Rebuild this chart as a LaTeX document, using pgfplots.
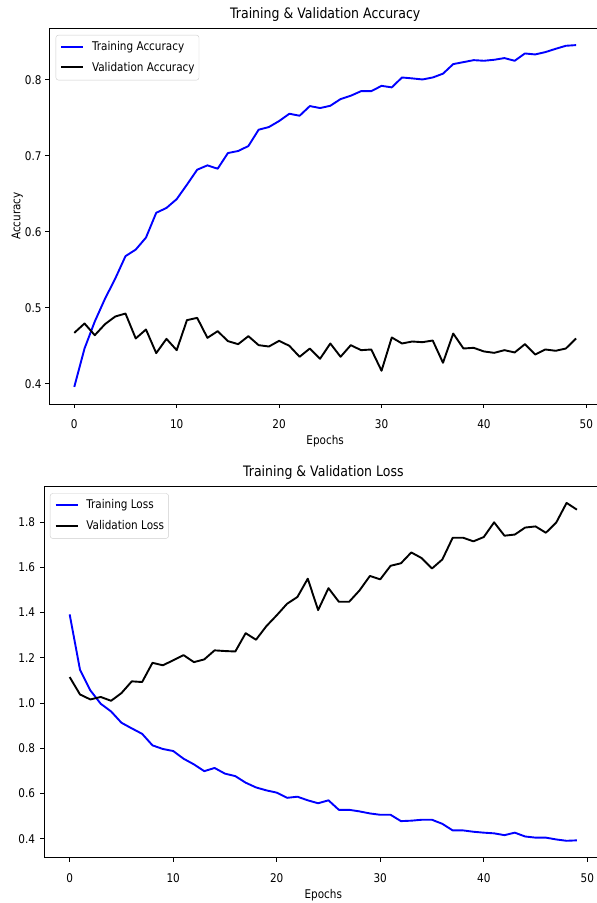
\documentclass[border=0pt]{standalone}
\usepackage{pgfplots}
\pgfplotsset{compat=1.18}
\usepackage{pgfplotstable}
\usepackage{fontspec}
\setmainfont{DejaVu Sans}[FakeStretch=0.87]
\definecolor{mplblue}{RGB}{0,0,255}

\pgfplotstableread{
ep tacc vacc tloss vloss
0 0.396 0.4671 1.392 1.115
1 0.4465 0.4794 1.147 1.038
2 0.482 0.464 1.056 1.016
3 0.512 0.4785 0.997 1.027
4 0.5385 0.4886 0.963 1.010
5 0.568 0.4925 0.913 1.044
6 0.5766 0.4597 0.888 1.096
7 0.5924 0.4715 0.864 1.093
8 0.625 0.4404 0.813 1.178
9 0.6314 0.4592 0.797 1.167
10 0.643 0.4443 0.788 1.189
11 0.662 0.4838 0.754 1.212
12 0.6817 0.4868 0.729 1.181
13 0.6874 0.4605 0.699 1.193
14 0.683 0.4693 0.713 1.233
15 0.7036 0.4562 0.688 1.230
16 0.7063 0.4522 0.677 1.228
17 0.7128 0.4627 0.648 1.309
18 0.7343 0.4509 0.627 1.280
19 0.7378 0.4491 0.614 1.340
20 0.7457 0.4566 0.604 1.388
21 0.7553 0.4500 0.581 1.439
22 0.7527 0.4356 0.586 1.469
23 0.7654 0.4465 0.570 1.550
24 0.7628 0.4330 0.557 1.411
25 0.7658 0.4531 0.570 1.508
26 0.7746 0.4356 0.528 1.448
27 0.7790 0.4509 0.528 1.448
28 0.7850 0.4443 0.521 1.498
29 0.7850 0.4452 0.512 1.562
30 0.7920 0.4172 0.506 1.547
31 0.7900 0.4610 0.506 1.607
32 0.8030 0.4531 0.478 1.618
33 0.8018 0.4557 0.480 1.666
34 0.8004 0.4548 0.484 1.641
35 0.8030 0.4570 0.484 1.595
36 0.8080 0.4277 0.466 1.635
37 0.8206 0.4662 0.437 1.731
38 0.8232 0.4465 0.437 1.731
39 0.8258 0.4474 0.431 1.715
40 0.8250 0.4426 0.427 1.734
41 0.8263 0.4408 0.424 1.799
42 0.8285 0.4443 0.416 1.740
43 0.8250 0.4413 0.427 1.745
44 0.8346 0.4522 0.410 1.776
45 0.8333 0.4386 0.405 1.781
46 0.8364 0.4452 0.405 1.753
47 0.8407 0.4435 0.397 1.798
48 0.8447 0.4465 0.391 1.885
49 0.8456 0.4597 0.393 1.855
}\hist

\pgfplotsset{
  mplaxis/.style={
    scale only axis,
    xmin=-2.45, xmax=51.45,
    axis line style={line width=0.9pt, black},
    tick align=outside, tick pos=left,
    major tick length=4pt,
    every tick/.style={black, line width=0.9pt},
    xtick={0,10,...,50},
    /pgf/number format/assume math mode=true,
    ticklabel style={font=\fontsize{12}{14}\selectfont, inner sep=0pt},
    xticklabel style={anchor=base, yshift=-20.5pt},
    yticklabel style={anchor=east, xshift=-3.5pt},
    yticklabel style={/pgf/number format/fixed, /pgf/number format/fixed zerofill, /pgf/number format/precision=1},
    title style={at={(0.5,1)}, anchor=base, yshift=3.5pt, inner sep=0pt, font=\fontsize{14.4}{17}\selectfont},
    xlabel style={at={(axis description cs:0.5,0)}, anchor=base, yshift=-41pt, inner sep=0pt, font=\fontsize{12}{14}\selectfont},
    legend cell align=left,
    legend image code/.code={\draw[line width=1.9pt,#1] (0pt,3.8pt) -- (22pt,3.8pt);},
    legend style={anchor=north west, draw=black!20, rounded corners=2.5pt, fill=white,
      font=\fontsize{12}{14}\selectfont, inner xsep=4.5pt, inner ysep=6.3pt, row sep=9.1pt,
      nodes={inner sep=0pt, text height=9pt, text depth=2.6pt, anchor=base west},
      /tikz/every odd column/.append style={column sep=7.7pt}},
    every axis plot/.append style={line width=1.9pt, line join=round},
  }
}

\begin{document}
\begin{tikzpicture}[x=1pt,y=1pt]
\begin{axis}[mplaxis,
  at={(49.2pt,499pt)}, anchor=south west,
  width=552pt, height=376pt,
  ymin=0.3735, ymax=0.8681,
  ytick={0.4,0.5,0.6,0.7,0.8},
  title={Training \& Validation Accuracy},
  xlabel={Epochs},
  ylabel={Accuracy},
  ylabel style={at={(axis description cs:-0.0475,0.5)}, anchor=south, inner sep=0pt, font=\fontsize{12}{14}\selectfont},
  legend style={at={(0.0118,0.9814)}},
]
\addplot[mplblue, forget plot] table[x=ep, y=tacc] {\hist};
\addplot[black, forget plot] table[x=ep, y=vacc] {\hist};
\addlegendimage{mplblue, line width=1.9pt}
\addlegendentry{Training Accuracy}
\addlegendimage{black, line width=1.9pt}
\addlegendentry{Validation Accuracy}
\end{axis}
\begin{axis}[mplaxis,
  at={(44.3pt,45.3pt)}, anchor=south west,
  width=558pt, height=371.7pt,
  ymin=0.3163, ymax=1.9597,
  ytick={0.4,0.6,...,1.8},
  yticklabel style={xshift=-1.5pt},
  title={Training \& Validation Loss},
  xlabel={Epochs},
  legend style={at={(0.0102,0.9803)}},
]
\addplot[mplblue, forget plot] table[x=ep, y=tloss] {\hist};
\addplot[black, forget plot] table[x=ep, y=vloss] {\hist};
\addlegendimage{mplblue, line width=1.9pt}
\addlegendentry{Training Loss}
\addlegendimage{black, line width=1.9pt}
\addlegendentry{Validation Loss}
\end{axis}
\pgfresetboundingbox
\useasboundingbox (0,0) rectangle (597,903);
\end{tikzpicture}
\end{document}
